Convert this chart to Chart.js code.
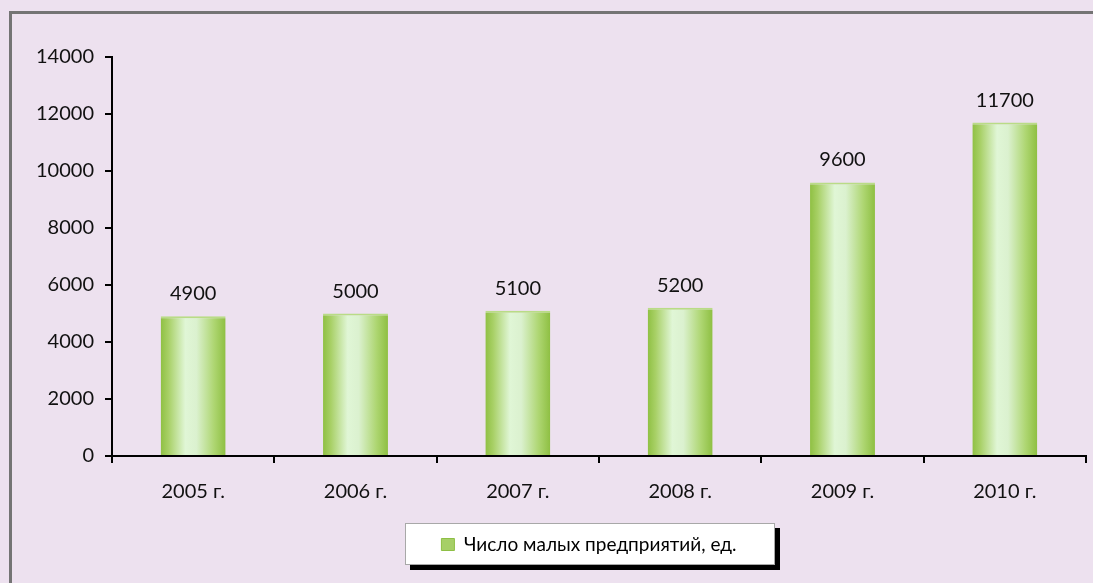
<!DOCTYPE html>
<html>
<head>
<meta charset="utf-8">
<script src="https://cdn.jsdelivr.net/npm/chart.js@4.4.0/dist/chart.umd.min.js"></script>
<style>
html,body{margin:0;padding:0;background:#EDE1EF;}
#wrap{width:1093px;height:583px;position:relative;}
</style>
</head>
<body>
<div id="wrap"><canvas id="c" width="1093" height="583"></canvas></div>
<script>
const categories = ['2005 г.', '2006 г.', '2007 г.', '2008 г.', '2009 г.', '2010 г.'];
const seriesName = 'Число малых предприятий, ед.';
const values = [4900, 5000, 5100, 5200, 9600, 11700];
const yTicks = [0, 2000, 4000, 6000, 8000, 10000, 12000, 14000];

const FONT = 'Lato, "Liberation Sans", sans-serif';
const BAR_PCT = 0.4;

function barGradient(ctx) {
  const chart = ctx.chart;
  const xs = chart.scales && chart.scales.x;
  if (!xs || ctx.dataIndex === undefined) return '#A8D065';
  const cx = xs.getPixelForValue(ctx.dataIndex);
  const w = (xs.width / categories.length) * BAR_PCT;
  const g = chart.ctx.createLinearGradient(cx - w / 2, 0, cx + w / 2, 0);
  g.addColorStop(0, '#8FC043');
  g.addColorStop(0.12, '#A8D066');
  g.addColorStop(0.38, '#E0F6D6');
  g.addColorStop(0.55, '#DBF1CF');
  g.addColorStop(0.82, '#AED672');
  g.addColorStop(1, '#8EBF42');
  return g;
}

const LEGEND_SHIFT = 46;

const bgPlugin = {
  id: 'bg',
  afterLayout(chart) {
    const lg = chart.legend;
    if (lg) { lg.left += LEGEND_SHIFT; lg.right += LEGEND_SHIFT; }
  },
  beforeDraw(chart) {
    const c = chart.ctx;
    c.save();
    c.fillStyle = '#EDE1EF';
    c.fillRect(0, 0, chart.width, chart.height);
    c.fillStyle = '#747474';
    c.fillRect(9, 11, chart.width - 9, 3);
    c.fillRect(9, 11, 3, chart.height - 11);
    const lg = chart.legend;
    if (lg) {
      const x = 405, y = 523, w = 370, h = 42;
      c.fillStyle = '#000';
      c.fillRect(x + 5, y + 5, w, h);
      c.fillStyle = '#FFFFFF';
      c.fillRect(x, y, w, h);
      c.strokeStyle = '#A8A8A8';
      c.lineWidth = 1;
      c.strokeRect(x + 0.5, y + 0.5, w - 1, h - 1);
    }
    c.restore();
  }
};

const labelPlugin = {
  id: 'barLabels',
  afterDatasetsDraw(chart) {
    const c = chart.ctx;
    const meta = chart.getDatasetMeta(0);
    c.save();
    c.font = '20px ' + FONT;
    c.fillStyle = '#111';
    c.textAlign = 'center';
    c.textBaseline = 'alphabetic';
    meta.data.forEach((bar, i) => {
      c.fillText(String(values[i]), bar.x, bar.y - 16);
    });
    c.restore();
  }
};

new Chart(document.getElementById('c'), {
  type: 'bar',
  data: {
    labels: categories,
    datasets: [{
      label: seriesName,
      data: values,
      backgroundColor: barGradient,
      borderColor: '#B9DC86',
      borderWidth: {top: 2, left: 0, right: 0, bottom: 0},
      borderSkipped: 'bottom',
      categoryPercentage: 1,
      barPercentage: BAR_PCT
    }]
  },
  options: {
    responsive: false,
    animation: false,
    devicePixelRatio: 1,
    layout: { padding: { left: 0, right: 7, top: 57, bottom: 19 } },
    plugins: {
      tooltip: { enabled: false },
      legend: {
        position: 'bottom',
        labels: {
          font: { family: FONT, size: 19 },
          color: '#111',
          boxWidth: 13,
          boxHeight: 12,
          padding: 12,
          generateLabels: (chart) => [{
            text: seriesName,
            fillStyle: '#A6CF67',
            strokeStyle: '#8EBF45',
            lineWidth: 1,
            hidden: false,
            datasetIndex: 0
          }]
        }
      }
    },
    scales: {
      x: {
        grid: { display: true, drawOnChartArea: false, drawTicks: true, tickLength: 7, color: '#000', lineWidth: 2, offset: true },
        border: { display: true, color: '#000', width: 2 },
        ticks: { font: { family: FONT, size: 20 }, color: '#111', padding: 17 },
        afterFit: (s) => { s.height = 67; }
      },
      y: {
        min: 0, max: 14000,
        afterBuildTicks: (s) => { s.ticks = yTicks.map(v => ({ value: v })); },
        grid: { display: true, drawOnChartArea: false, drawTicks: true, tickLength: 7, color: '#000', lineWidth: 2 },
        border: { display: true, color: '#000', width: 2 },
        ticks: { font: { family: FONT, size: 20 }, color: '#111', padding: 11, callback: (v) => String(v) },
        afterFit: (s) => { s.width = 112; }
      }
    }
  },
  plugins: [bgPlugin, labelPlugin]
});
</script>
</body>
</html>
